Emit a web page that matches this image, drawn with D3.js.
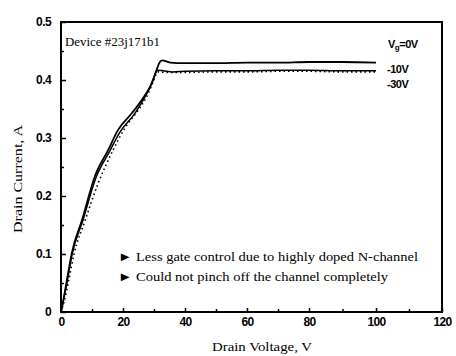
<!DOCTYPE html>
<html><head><meta charset="utf-8">
<script src="https://cdn.jsdelivr.net/npm/d3@7"></script>
<style>body{margin:0;background:#fff}svg{display:block}</style>
</head><body>
<svg id="c" width="456" height="356"></svg>
<script>
// ---- data ----
const vg0_V  = [0, 0.6, 1.9, 3.5, 6.8, 11.0, 15.2, 18.4, 22.9, 26.1, 28.7, 30.3, 31.9, 32.6, 35.2, 40, 50, 60, 70, 80, 90, 100];
const vg0_I  = [0, 0.016, 0.055, 0.102, 0.159, 0.235, 0.279, 0.314, 0.343, 0.366, 0.388, 0.409, 0.431, 0.434, 0.430, 0.429, 0.429, 0.430, 0.430, 0.431, 0.431, 0.430];
const vg10_V = [0, 0.6, 2.0, 3.6, 7.0, 11.3, 15.6, 19.0, 23.9, 27.1, 29.4, 31.0, 33, 36, 40, 50, 60, 70, 80, 90, 100];
const vg10_I = [0, 0.015, 0.053, 0.100, 0.157, 0.232, 0.276, 0.310, 0.343, 0.371, 0.395, 0.417, 0.416, 0.414, 0.415, 0.416, 0.416, 0.417, 0.417, 0.416, 0.416];
const vg30_V = [0, 1.0, 2.5, 4.2, 7.6, 12.0, 16.8, 20.6, 24.5, 27.5, 29.6, 31.2, 34, 40, 50, 60, 70, 80, 90, 100];
const vg30_I = [0, 0.018, 0.055, 0.100, 0.155, 0.222, 0.279, 0.317, 0.345, 0.370, 0.395, 0.414, 0.413, 0.413, 0.414, 0.414, 0.415, 0.415, 0.414, 0.414];
const xTicks = [0, 20, 40, 60, 80, 100, 120];
const xMinor = [10, 30, 50, 70, 90, 110];
const yTicks = [0, 0.1, 0.2, 0.3, 0.4, 0.5];
const yMinor = [0.05, 0.15, 0.25, 0.35, 0.45];
const legendLabels = ["-10V", "-30V"];
const notes = ["\u25BA Less gate control due to highly doped N-channel", "\u25BA Could not pinch off the channel completely"];

const svg = d3.select("#c");
const x = d3.scaleLinear().domain([0, 80, 100, 120]).range([61, 309, 376, 442]);
const y = d3.scaleLinear().domain([0, 0.5]).range([312, 22]);

const tickFont = "'Liberation Sans', Arial, sans-serif";
const serif = "'Liberation Serif', 'Times New Roman', serif";

// axes
const ax = svg.append("g").attr("transform", "translate(0,312)")
  .call(d3.axisBottom(x).tickValues(xTicks).tickSize(-4).tickPadding(5).tickFormat(d3.format("d")));
svg.append("g").attr("transform", "translate(0,312)")
  .call(d3.axisBottom(x).tickValues(xMinor).tickSize(-3).tickFormat(""))
  .select(".domain").remove();
const ay = svg.append("g").attr("transform", "translate(61,0)")
  .call(d3.axisLeft(y).tickValues(yTicks).tickSize(-5).tickPadding(10).tickFormat(d => d === 0 ? "0" : d3.format(".1f")(d)));
svg.append("g").attr("transform", "translate(61,0)")
  .call(d3.axisLeft(y).tickValues(yMinor).tickSize(-3).tickFormat(""))
  .select(".domain").remove();
svg.selectAll(".domain").remove();
svg.selectAll(".tick line").attr("stroke", "#000").attr("stroke-width", 1.5);
svg.selectAll(".tick text").attr("font-family", tickFont).attr("font-weight", "bold")
  .attr("font-size", 12).attr("letter-spacing", "-0.6").attr("fill", "#000");

// frame
svg.append("rect").attr("x", x(0)).attr("y", y(0.5))
  .attr("width", x(120) - x(0)).attr("height", y(0) - y(0.5))
  .attr("fill", "none").attr("stroke", "#000").attr("stroke-width", 2);

// curves
const line = d3.line().x(d => x(d[0])).y(d => y(d[1])).curve(d3.curveMonotoneX);
const series = [
  {V: vg10_V, I: vg10_I, w: 1.5, dash: null},
  {V: vg30_V, I: vg30_I, w: 1.6, dash: "1.5,3"},
  {V: vg0_V,  I: vg0_I,  w: 1.8, dash: null}
];
series.forEach(s => {
  svg.append("path").datum(s.V.map((v, i) => [v, s.I[i]]))
    .attr("d", line).attr("fill", "none").attr("stroke", "#000")
    .attr("stroke-width", s.w).attr("stroke-dasharray", s.dash)
    .attr("stroke-linejoin", "round");
});

// device label
svg.append("text").attr("x", 65).attr("y", 46).attr("font-family", serif)
  .attr("font-size", 12).attr("textLength", 95).attr("lengthAdjust", "spacingAndGlyphs")
  .text("Device #23j171b1");

// legend
const lg = svg.append("g").attr("font-family", tickFont).attr("font-weight", "bold")
  .attr("font-size", 11).attr("letter-spacing", "-0.5");
const t0 = lg.append("text").attr("x", 388).attr("y", 48);
t0.append("tspan").text("V");
t0.append("tspan").attr("font-size", 8).attr("dy", 2).text("g");
t0.append("tspan").attr("dy", -2).text("=0V");
lg.selectAll("text.l").data(legendLabels).join("text").attr("class", "l")
  .attr("x", 387).attr("y", (d, i) => 73 + i * 14.5).text(d => d);

// notes
svg.selectAll("text.n").data(notes).join("text").attr("class", "n")
  .attr("x", 118).attr("y", (d, i) => 261 + i * 20)
  .attr("font-family", serif).attr("font-size", 13)
  .attr("textLength", (d, i) => i === 0 ? 300 : 270).attr("lengthAdjust", "spacingAndGlyphs")
  .text(d => d);

// axis titles
svg.append("text").attr("x", 262).attr("y", 351).attr("text-anchor", "middle")
  .attr("font-family", serif).attr("font-size", 12)
  .attr("textLength", 100).attr("lengthAdjust", "spacingAndGlyphs")
  .text("Drain Voltage, V");
svg.append("text").attr("transform", "translate(22,179) rotate(-90)").attr("text-anchor", "middle")
  .attr("font-family", serif).attr("font-size", 12)
  .attr("textLength", 108).attr("lengthAdjust", "spacingAndGlyphs")
  .text("Drain Current, A");
</script>
</body></html>
